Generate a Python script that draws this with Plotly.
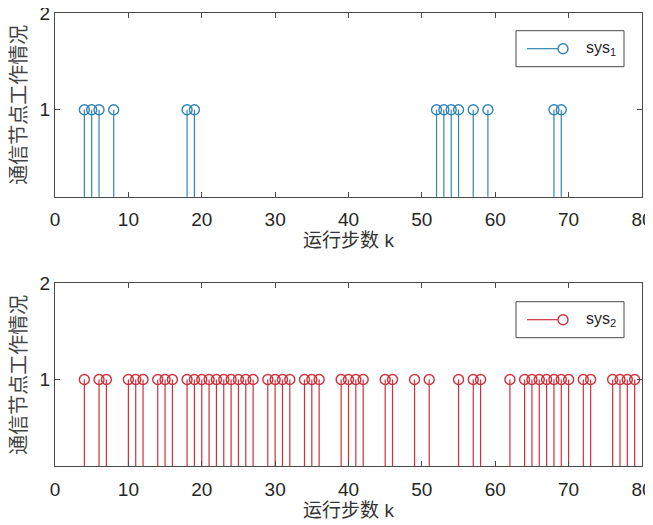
import plotly.graph_objects as go

# ---- data ----
k_sys1 = [4, 5, 6, 8, 18, 19, 52, 53, 54, 55, 57, 59, 68, 69]
v_sys1 = [1] * len(k_sys1)
k_sys2 = [4, 6, 7, 10, 11, 12, 14, 15, 16, 18, 19, 20, 21, 22, 23, 24, 25, 26, 27,
          29, 30, 31, 32, 34, 35, 36, 39, 40, 41, 42, 45, 46, 49, 51, 55, 57, 58,
          62, 64, 65, 66, 67, 68, 69, 70, 72, 73, 76, 77, 78, 79]
v_sys2 = [1] * len(k_sys2)
x_ticks = [0, 10, 20, 30, 40, 50, 60, 70, 80]
y_ticks = [1, 2]
series_names = ["sys<sub>1</sub>", "sys<sub>2</sub>"]
x_title = "运行步数 k"
y_title = "通信节点工作情况"

BLUE = "#2f84b6"
RED = "#d12f3a"
AX = "#4a4a4a"
FONT = "Liberation Sans, Noto Sans CJK SC, sans-serif"

fig = go.Figure()


def add_stem(ks, vs, color, xa, ya):
    xs, ys = [], []
    for k, v in zip(ks, vs):
        xs += [k, k, None]
        ys += [0, v, None]
    fig.add_trace(go.Scatter(x=xs, y=ys, mode="lines", xaxis=xa, yaxis=ya,
                             line=dict(color=color, width=1.2), showlegend=False,
                             hoverinfo="skip"))
    fig.add_trace(go.Scatter(x=ks, y=vs, mode="markers", xaxis=xa, yaxis=ya,
                             marker=dict(symbol="circle-open", size=10, color=color,
                                         line=dict(color=color, width=1.4)),
                             showlegend=False, cliponaxis=False))


add_stem(k_sys1, v_sys1, BLUE, "x", "y")
add_stem(k_sys2, v_sys2, RED, "x2", "y2")

xcommon = dict(range=[-0.0005, 80.0005], tickvals=x_ticks, ticks="inside", ticklen=5,
               tickcolor=AX, showline=True, linecolor=AX, linewidth=1,
               mirror="ticks", showgrid=False, zeroline=False, automargin=False,
               ticklabeloverflow="allow", ticklabelstandoff=6,
               tickfont=dict(size=19, color="#262626", family=FONT),
               title=dict(text=x_title, font=dict(size=19, color="#333333", family=FONT),
                          standoff=4))
ycommon = dict(range=[0.1, 2.00002], tickvals=y_ticks, ticks="inside", ticklen=5,
               tickcolor=AX, showline=True, linecolor=AX, linewidth=1,
               mirror="ticks", showgrid=False, zeroline=False, automargin=False,
               ticklabeloverflow="allow",
               tickfont=dict(size=19, color="#262626", family=FONT),
               title=dict(text=y_title, font=dict(size=20, color="#444444", family=FONT),
                          standoff=14))

# page body adds an 8px offset; compensate so the plot lands where the reference has it
fig.update_layout(
    width=645, height=517,
    margin=dict(l=47, r=11, t=5, b=59, autoexpand=False),
    paper_bgcolor="white", plot_bgcolor="white",
    xaxis=dict(domain=[0, 1], anchor="y", **xcommon),
    yaxis=dict(domain=[0.5945, 1.0], anchor="x", **ycommon),
    xaxis2=dict(domain=[0, 1], anchor="y2", **xcommon),
    yaxis2=dict(domain=[0.0, 0.4033], anchor="x2", **ycommon),
    showlegend=False,
)

# custom MATLAB-style legend boxes (paper/pixel layout decoration)
def px_x(p):
    return (p - 55) / (642 - 55)


def px_y(p):
    return (466 - p) / (466 - 13)


for name, color, top in [(series_names[0], BLUE, 30.7), (series_names[1], RED, 301.7)]:
    bot = top + 36
    fig.add_shape(type="rect", xref="paper", yref="paper",
                  x0=px_x(516), x1=px_x(624), y0=px_y(bot), y1=px_y(top),
                  line=dict(color=AX, width=1), fillcolor="white", layer="above")
    cy = px_y(top + 18)
    fig.add_shape(type="line", xref="paper", yref="paper",
                  x0=px_x(527), x1=px_x(558), y0=cy, y1=cy,
                  line=dict(color=color, width=1.2), layer="above")
    fig.add_shape(type="circle", xref="paper", yref="paper",
                  x0=px_x(558), x1=px_x(568), y0=px_y(top + 23), y1=px_y(top + 13),
                  line=dict(color=color, width=1.4), fillcolor="rgba(0,0,0,0)",
                  layer="above")
    fig.add_annotation(xref="paper", yref="paper", x=px_x(584), y=cy,
                       xanchor="left", yanchor="middle", showarrow=False,
                       text=name, font=dict(size=16, color="#262626", family=FONT))

fig.write_html("out.html")
